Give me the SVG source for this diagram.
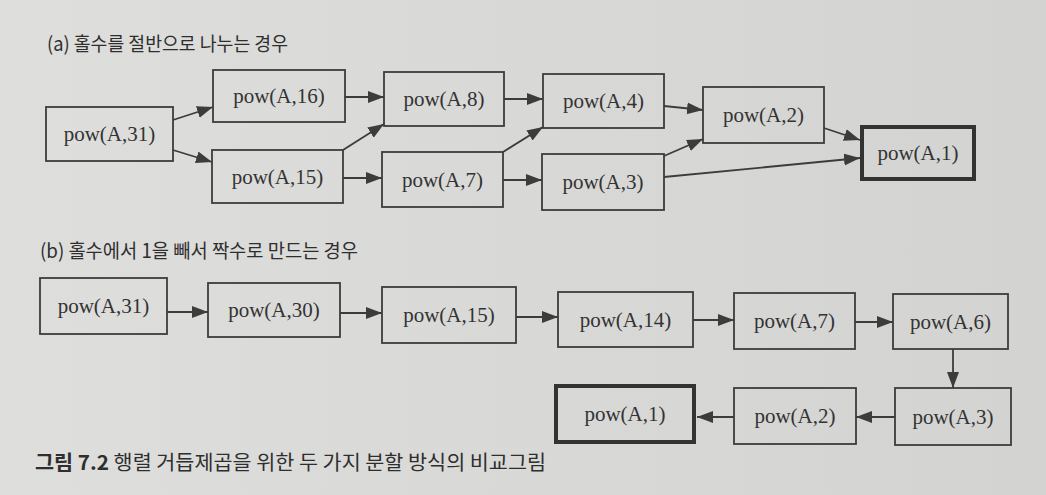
<svg xmlns="http://www.w3.org/2000/svg" width="1046" height="495" viewBox="0 0 1046 495">
<defs>
<linearGradient id="bg" x1="0" y1="0" x2="1" y2="0">
<stop offset="0" stop-color="#dededc"/>
<stop offset="1" stop-color="#d3d3d1"/>
</linearGradient>
<marker id="ah" markerUnits="userSpaceOnUse" markerWidth="17" markerHeight="13" refX="16" refY="6" orient="auto">
<path d="M0,0 L16,6 L0,12 z" fill="#3c3c3c"/>
</marker>
<style>
.box{fill:none;stroke:#3c3c3c;stroke-width:1.8}
.thick{fill:none;stroke:#333;stroke-width:4}
.lbl{font-family:"Liberation Serif","DejaVu Serif",serif;font-size:21px;fill:#333;text-anchor:middle}
.ko{font-family:"Noto Sans CJK KR","Noto Sans",sans-serif;fill:#2e2e2e}
.edge{stroke:#3c3c3c;stroke-width:1.8;fill:none;marker-end:url(#ah)}
</style>
</defs>
<rect x="0" y="0" width="1046" height="495" fill="url(#bg)"/>

<text class="ko" x="47" y="51" font-size="19.5" textLength="241" lengthAdjust="spacingAndGlyphs">(a) 홀수를 절반으로 나누는 경우</text>
<text class="ko" x="40" y="258" font-size="19.5" textLength="318" lengthAdjust="spacingAndGlyphs">(b) 홀수에서 1을 빼서 짝수로 만드는 경우</text>
<text class="ko" x="35" y="470" font-size="20" textLength="511" lengthAdjust="spacingAndGlyphs"><tspan font-weight="bold">그림 7.2</tspan> 행렬 거듭제곱을 위한 두 가지 분할 방식의 비교그림</text>

<g id="connectors">
<line class="edge" x1="173" y1="120" x2="213" y2="107"/>
<line class="edge" x1="173" y1="150" x2="212" y2="162"/>
<line class="edge" x1="345" y1="97" x2="384" y2="97"/>
<line class="edge" x1="343" y1="150" x2="384" y2="124"/>
<line class="edge" x1="343" y1="178" x2="382" y2="178"/>
<line class="edge" x1="504" y1="99" x2="543" y2="99"/>
<line class="edge" x1="503" y1="152" x2="543" y2="127"/>
<line class="edge" x1="503" y1="180" x2="542" y2="180"/>
<line class="edge" x1="664" y1="106" x2="703" y2="110"/>
<line class="edge" x1="664" y1="156" x2="703" y2="139"/>
<line class="edge" x1="664" y1="177" x2="860" y2="158"/>
<line class="edge" x1="824" y1="128" x2="860" y2="140"/>

<line class="edge" x1="167" y1="312" x2="208" y2="312"/>
<line class="edge" x1="340" y1="313" x2="382" y2="313"/>
<line class="edge" x1="516" y1="317" x2="558" y2="317"/>
<line class="edge" x1="693" y1="320" x2="734" y2="320"/>
<line class="edge" x1="855" y1="322" x2="893" y2="322"/>
<line class="edge" x1="953" y1="349" x2="953" y2="388"/>
<line class="edge" x1="895" y1="417" x2="856" y2="417"/>
<line class="edge" x1="734" y1="417" x2="697" y2="417"/>
</g>

<g id="a31"><rect class="box" x="46" y="107" width="127" height="54"/><text class="lbl" x="109.5" y="141">pow(A,31)</text></g>
<g id="a16"><rect class="box" x="213" y="70" width="132" height="52"/><text class="lbl" x="279" y="103">pow(A,16)</text></g>
<g id="a15"><rect class="box" x="212" y="150" width="131" height="53"/><text class="lbl" x="277.5" y="184">pow(A,15)</text></g>
<g id="a8"><rect class="box" x="384" y="72" width="120" height="54"/><text class="lbl" x="444" y="106">pow(A,8)</text></g>
<g id="a7"><rect class="box" x="382" y="152" width="121" height="55"/><text class="lbl" x="442.5" y="187">pow(A,7)</text></g>
<g id="a4"><rect class="box" x="543" y="74" width="121" height="54"/><text class="lbl" x="603.5" y="108">pow(A,4)</text></g>
<g id="a3"><rect class="box" x="542" y="154" width="122" height="56"/><text class="lbl" x="603" y="189">pow(A,3)</text></g>
<g id="a2"><rect class="box" x="703" y="87" width="121" height="56"/><text class="lbl" x="763.5" y="122">pow(A,2)</text></g>
<g id="a1"><rect class="thick" x="862" y="127" width="112" height="52"/><text class="lbl" x="918" y="160">pow(A,1)</text></g>

<g id="b31"><rect class="box" x="40" y="278" width="127" height="56"/><text class="lbl" x="103.5" y="313">pow(A,31)</text></g>
<g id="b30"><rect class="box" x="208" y="283" width="132" height="54"/><text class="lbl" x="274" y="317">pow(A,30)</text></g>
<g id="b15"><rect class="box" x="382" y="287" width="134" height="56"/><text class="lbl" x="449" y="322">pow(A,15)</text></g>
<g id="b14"><rect class="box" x="558" y="292" width="135" height="55"/><text class="lbl" x="625.5" y="327">pow(A,14)</text></g>
<g id="b7"><rect class="box" x="734" y="293" width="121" height="56"/><text class="lbl" x="794.5" y="328">pow(A,7)</text></g>
<g id="b6"><rect class="box" x="893" y="294" width="115" height="55"/><text class="lbl" x="950.5" y="329">pow(A,6)</text></g>
<g id="b3"><rect class="box" x="895" y="388" width="116" height="57"/><text class="lbl" x="953" y="424">pow(A,3)</text></g>
<g id="b2"><rect class="box" x="734" y="388" width="122" height="56"/><text class="lbl" x="795" y="423">pow(A,2)</text></g>
<g id="b1"><rect class="thick" x="556" y="386" width="138" height="56"/><text class="lbl" x="625" y="421">pow(A,1)</text></g>
</svg>
